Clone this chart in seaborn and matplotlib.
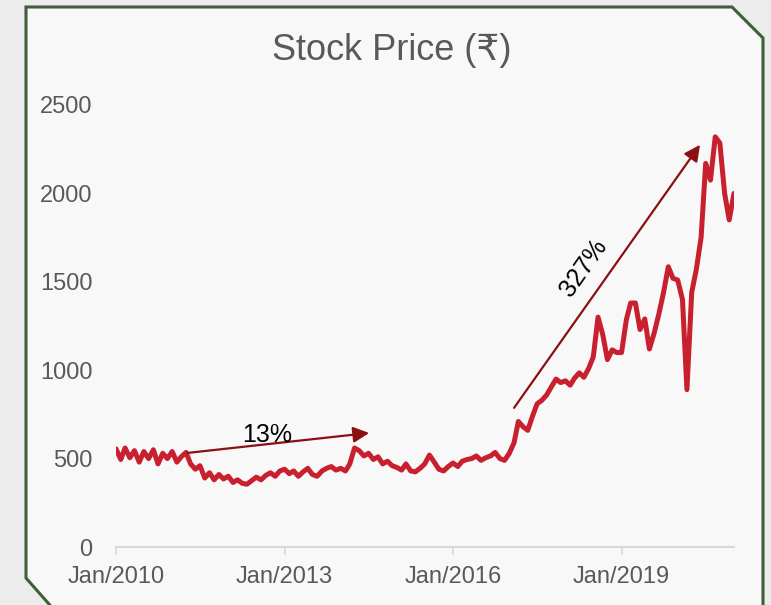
import pandas as pd
import numpy as np
import seaborn as sns
import matplotlib.pyplot as plt
import matplotlib.dates as mdates
from matplotlib.patches import Polygon

# monthly closing price (Jan 2010 .. Jan 2021)
p2010 = [555, 495, 560, 505, 545, 480, 540, 500, 550, 470, 530, 500]
p2011 = [540, 480, 510, 535, 470, 440, 460, 390, 420, 380, 410, 385]
p2012 = [400, 365, 380, 360, 355, 375, 395, 380, 405, 420, 400, 430]
p2013 = [440, 415, 430, 400, 425, 445, 410, 400, 430, 445, 455, 435]
p2014 = [445, 430, 470, 560, 545, 515, 530, 495, 510, 470, 485, 460]
p2015 = [450, 435, 470, 430, 425, 445, 470, 520, 480, 440, 430, 455]
p2016 = [475, 455, 485, 495, 500, 515, 490, 505, 515, 535, 500, 490]
p2017 = [530, 590, 710, 680, 660, 740, 810, 830, 860, 905, 950, 930]
p2018 = [940, 915, 955, 985, 960, 1010, 1075, 1300, 1200, 1060, 1115, 1100]
p2019 = [1100, 1285, 1380, 1380, 1230, 1290, 1120, 1210, 1320, 1440, 1585, 1520]
p2020 = [1510, 1400, 890, 1440, 1570, 1750, 2170, 2075, 2320, 2285, 2000, 1850]
p2021 = [2000]

prices = p2010 + p2011 + p2012 + p2013 + p2014 + p2015 + p2016 + p2017 + p2018 + p2019 + p2020 + p2021
dates = pd.date_range('2010-01-01', periods=len(prices), freq='MS')
df = pd.DataFrame({'date': dates, 'price': prices})

tick_years = ['2010-01-01', '2013-01-01', '2016-01-01', '2019-01-01']
y_ticks = [0, 500, 1000, 1500, 2000, 2500]

# annotation arrows (start, end) and labels (text, x, y, rotation)
arrow1 = (pd.Timestamp('2011-04-10'), 532, pd.Timestamp('2014-07-05'), 645)
arrow2 = (pd.Timestamp('2017-02-01'), 787, pd.Timestamp('2020-05-25'), 2275)
label1 = ('13%', pd.Timestamp('2012-09-10'), 634, 0)
label2 = ('327%', pd.Timestamp('2018-05-01'), 1579, 55)

sns.set_theme(style='white')
plt.rcParams['font.family'] = ['Liberation Sans', 'DejaVu Sans']

W, H = 771, 605
fig = plt.figure(figsize=(W / 100, H / 100), dpi=100)
fig.patch.set_facecolor('#ececec')

# green frame with cut corners
pts = [(26, 7), (732, 7), (763, 38), (763, 612), (56, 612), (26, 578)]
frame = Polygon([(x / W, 1 - y / H) for x, y in pts], closed=True,
                transform=fig.transFigure, facecolor='#f8f8f8',
                edgecolor='#3f5e3a', lw=2.2, zorder=0)
fig.add_artist(frame)

ax = fig.add_axes([116 / W, (H - 547) / H, 618 / W, 442 / H])
ax.set_facecolor('none')

sns.lineplot(data=df, x='date', y='price', ax=ax, color='#c8202e', lw=3.6)

ax.set_xlim(pd.Timestamp('2010-01-01'), pd.Timestamp('2021-01-01'))
ax.set_ylim(0, 2500)
ax.set_yticks(y_ticks)
ax.set_xticks(pd.to_datetime(tick_years))
ax.xaxis.set_major_formatter(mdates.DateFormatter('Jan/%Y'))
ax.set_xlabel('')
ax.set_ylabel('')

sns.despine(ax=ax, left=True, top=True, right=True)
ax.spines['bottom'].set_color('#d9d9d9')
ax.spines['bottom'].set_linewidth(1.5)
ax.tick_params(axis='y', length=0, pad=17, labelsize=17, labelcolor='#595959')
ax.tick_params(axis='x', length=6, width=1.2, color='#d9d9d9', direction='out',
               pad=8, labelsize=17, labelcolor='#595959')
ax.xaxis.set_ticks_position('bottom')

for a in (arrow1, arrow2):
    ax.annotate('', xy=(a[2], a[3]), xytext=(a[0], a[1]),
                arrowprops=dict(arrowstyle='-|>', color='#8b1014', lw=1.6,
                                mutation_scale=24, shrinkA=0, shrinkB=0))
for txt, x, y, rot in (label1, label2):
    ax.text(x, y, txt, fontsize=18, color='black', ha='center', va='center',
            rotation=rot, rotation_mode='anchor')

fig.text(392 / W, 1 - 50 / H, 'Stock Price (₹)', fontsize=26, color='#595959',
         ha='center', va='center')

fig.savefig('out.png', dpi=100, facecolor=fig.get_facecolor())
